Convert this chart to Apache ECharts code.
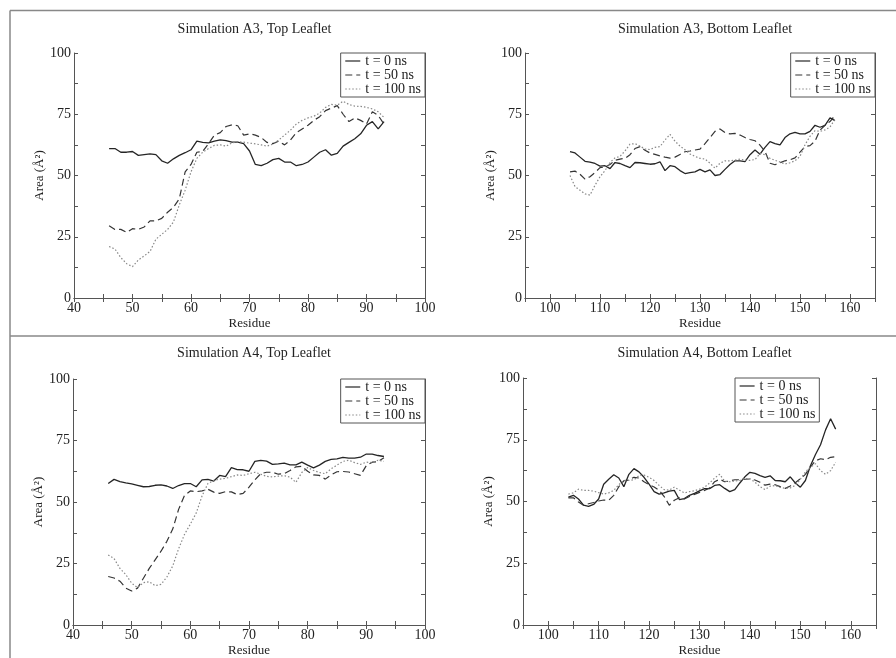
<!DOCTYPE html>
<html>
<head>
<meta charset="utf-8">
<script src="https://cdn.jsdelivr.net/npm/echarts@6/dist/echarts.min.js"></script>
<style>
  html, body { margin: 0; padding: 0; background: #fff; }
  #main { width: 896px; height: 658px; }
</style>
</head>
<body>
<div id="main"></div>
<script>
var residuesTop = [46, 47, 48, 49, 50, 51, 52, 53, 54, 55, 56, 57, 58, 59, 60, 61, 62, 63, 64, 65,
  66, 67, 68, 69, 70, 71, 72, 73, 74, 75, 76, 77, 78, 79, 80, 81, 82, 83, 84, 85, 86, 87, 88, 89, 90, 91, 92, 93];
var residuesBottom = [104, 105, 106, 107, 108, 109, 110, 111, 112, 113, 114, 115, 116, 117, 118, 119, 120,
  121, 122, 123, 124, 125, 126, 127, 128, 129, 130, 131, 132, 133, 134, 135, 136, 137, 138, 139, 140,
  141, 142, 143, 144, 145, 146, 147, 148, 149, 150, 151, 152, 153, 154, 155, 156, 157];

var seriesNames = ['t = 0 ns', 't = 50 ns', 't = 100 ns'];
var panelTitles = ['Simulation A3, Top Leaflet', 'Simulation A3, Bottom Leaflet',
  'Simulation A4, Top Leaflet', 'Simulation A4, Bottom Leaflet'];

// Simulation A3, top leaflet
var a3TopT0 = [61, 61, 59.5, 59.5, 59.8, 58.2, 58.5, 58.8, 58.5, 56,
  55, 56.8, 58.2, 59.3, 60.5, 64, 63.5, 63.3, 64, 64.5,
  64.2, 63.6, 63.6, 63, 60, 54.5, 54, 55, 56.5, 57,
  55.5, 55.5, 54, 54.5, 55.5, 57.5, 59.5, 60.5, 58.3, 59,
  62, 63.5, 65, 67, 70.5, 72, 69, 72];
var a3TopT50 = [29.5, 28, 28, 26.8, 28.3, 28, 29, 31.5, 31.5, 32.5,
  35, 37, 40.5, 51.5, 54.5, 59.5, 59.8, 63, 66.5, 67.5,
  70, 70.7, 70.3, 66.5, 67, 66.5, 65.5, 63.5, 63, 64,
  62.5, 64.5, 67.5, 69, 70.5, 72.5, 74, 76.5, 77.5, 78.5,
  75, 72, 73.5, 72.5, 71, 76, 74.5, 71];
var a3TopT100 = [21, 20, 16.5, 14, 12.8, 15.5, 17.2, 19, 24, 26,
  28, 31, 38, 44, 51.5, 57, 59.5, 61, 62.3, 62.5,
  62, 63.3, 63.8, 63.6, 63.2, 62.9, 62.5, 62, 62.8, 64.5,
  66.5, 68.5, 71, 72.5, 73.5, 74.2, 75.5, 77.8, 79, 78.7,
  80.3, 79, 78.3, 78.2, 77.8, 77.2, 76, 73.7];

// Simulation A3, bottom leaflet
var a3BotT0 = [59.7, 59.2, 57.5, 55.8, 55.5, 54.9, 53.8, 54, 52.8, 55.3,
  54.9, 54, 53.2, 55.3, 55.2, 54.9, 54.6, 54.8, 55.6, 52,
  54, 53.6, 52, 50.8, 51.2, 51.5, 52.5, 51.5, 52.3, 50,
  50.4, 52.5, 54.5, 56, 56, 55.7, 58.5, 60.4, 58.7, 61.5,
  63.8, 63, 62.5, 65.5, 67, 67.6, 67, 67, 68, 70.5,
  69.7, 70.5, 73.5, 72.4];
var a3BotT50 = [51.5, 51.8, 50.5, 48.5, 49.5, 51.2, 53.2, 53.5, 54.5, 56.2,
  56.7, 57, 58.5, 61, 61.8, 60.3, 59.2, 58.6, 58, 57.5,
  57.1, 57.5, 58.6, 59.7, 60, 60.4, 60.8, 63, 65.5, 68,
  69, 67.5, 67, 67.2, 66.5, 65.5, 64.7, 64.2, 62.4, 59.8,
  55, 54.4, 55.2, 56, 56.4, 57.2, 59.5, 61.8, 62.2, 64,
  68.5, 70.5, 72, 74.5];
var a3BotT100 = [50, 45.5, 44, 42.5, 42, 46, 49.5, 52, 55.3, 57.2,
  57.8, 60, 62.8, 63, 62, 60.8, 60.6, 61.5, 61.8, 64.5,
  66.8, 64, 62, 60.5, 58.8, 57.8, 57, 56.7, 55, 53,
  55, 56, 56, 56.3, 56.7, 56.2, 56.2, 56.5, 59, 58.5,
  57, 56.2, 55.5, 54.7, 55.2, 56, 57.8, 62.5, 66, 68.3,
  68, 68.6, 69.8, 73];

// Simulation A4, top leaflet
var a4TopT0 = [57.5, 59.2, 58.3, 57.8, 57.4, 56.8, 56.2, 56.3, 56.8, 57,
  56.5, 55.5, 56.7, 57.5, 57.5, 56.2, 59, 59.2, 58.5, 60.8,
  60.3, 64, 63.2, 63.1, 62.5, 66.5, 66.9, 66.6, 65.3, 65.5,
  65.8, 65.1, 65.1, 66.2, 65, 63.9, 65, 66.5, 67.3, 67.5,
  68.1, 67.8, 67.8, 68.2, 69.5, 69.5, 68.9, 68.5];
var a4TopT50 = [19.7, 19.1, 17.8, 15, 13.8, 15, 19, 23, 26.5, 30,
  34, 39, 47, 52.6, 54.5, 54.2, 54.5, 55.2, 54, 53.5,
  54.2, 54.1, 53, 53.5, 56, 59, 61.5, 62.1, 62.1, 61.3,
  61.5, 62.8, 64.3, 64.5, 62.5, 61, 60.8, 59.3, 61, 62.3,
  62.4, 62.2, 61.5, 60.8, 64.8, 66.2, 66.4, 68];
var a4TopT100 = [28.5, 27, 23, 20.5, 17, 15.2, 17.2, 17.6, 16, 16.5,
  19.5, 24, 31, 36.8, 41, 45.5, 52.5, 57.5, 58.8, 59.3,
  59.6, 60.3, 61, 60.8, 61.5, 62.1, 61.3, 60.4, 60.2, 60.5,
  60.7, 60.1, 58, 62, 64, 62.8, 62, 61.5, 63.5, 65,
  66.5, 67, 66, 65.3, 66.2, 66, 67, 66.5];

// Simulation A4, bottom leaflet
var a4BotT0 = [51.8, 52.5, 51, 48.5, 48, 48.8, 51, 57, 59, 60.8,
  59.5, 56, 61, 63.3, 62, 59.8, 57, 54, 53, 53.5,
  54.2, 54.5, 50.8, 51.2, 52.5, 53.3, 54.3, 55.2, 55.2, 56.5,
  56.8, 55.3, 54, 54.8, 57.5, 60, 61.8, 61.4, 60.5, 59.8,
  60.4, 58.5, 58.4, 58, 60, 57.5, 55.8, 58.5, 64.5, 69,
  73, 79, 83.5, 79.3];
var a4BotT50 = [51.5, 51.5, 49.8, 48.5, 49.1, 49.6, 50.2, 50.6, 50.5, 52.5,
  56, 58.4, 58.7, 59.8, 59.5, 58, 56.8, 55.9, 54.5, 52,
  48.5, 50.5, 51.5, 51, 52, 52.9, 53.7, 54.5, 55.5, 58,
  59, 58, 58.3, 58.8, 58.8, 59, 59.1, 58.7, 57.8, 56.6,
  57, 56.8, 56, 55.3, 56.3, 57.6, 59.2, 61, 64, 66.5,
  67.3, 66.9, 67.9, 68.1];
var a4BotT100 = [53, 53.5, 55, 54.5, 54.5, 54.2, 53.6, 53, 53.5, 54.5,
  56.8, 58.6, 58.5, 58.8, 60.5, 60.7, 59.8, 58.5, 56.5, 54.8,
  54.6, 55.8, 54.6, 53.5, 54, 54.3, 55, 55.8, 57.5, 59.5,
  61, 58.2, 58, 58.3, 58.5, 59.3, 59.2, 57.8, 56, 54.8,
  56.2, 56.5, 55.7, 55.4, 55.5, 56.5, 59, 62, 63.9, 65.3,
  62.5, 61, 62.5, 65.9];

var FONT = 'Liberation Serif';
var myChart = echarts.init(document.getElementById('main'));

var grids = [
  {left: 74, top: 53, width: 351, height: 245},
  {left: 525, top: 53, width: 350, height: 245},
  {left: 73, top: 379, width: 352, height: 246},
  {left: 523, top: 378, width: 353, height: 249}
];
var xRanges = [[40, 100], [95, 165], [40, 100], [95, 165]];
var panelData = [
  [residuesTop, [a3TopT0, a3TopT50, a3TopT100]],
  [residuesBottom, [a3BotT0, a3BotT50, a3BotT100]],
  [residuesTop, [a4TopT0, a4TopT50, a4TopT100]],
  [residuesBottom, [a4BotT0, a4BotT50, a4BotT100]]
];
var lineColors = ['#252525', '#353535', '#888888'];
var lineStyles = [
  {color: lineColors[0], width: 1.3, type: 'solid'},
  {color: lineColors[1], width: 1.2, type: [7, 4]},
  {color: lineColors[2], width: 1.2, type: [1.5, 2]}
];

function zip(xs, ys) {
  return xs.map(function (x, i) { return [x, ys[i]]; });
}

var xAxes = [], yAxes = [], series = [], titles = [], legends = [];
grids.forEach(function (g, i) {
  var tickCommon = {
    axisLine: {show: true, lineStyle: {color: '#555', width: 1}},
    axisTick: {show: true, inside: true, length: 4, lineStyle: {color: '#555'}},
    splitLine: {show: false}
  };
  xAxes.push(Object.assign({
    gridIndex: i, type: 'value', position: 'bottom',
    min: xRanges[i][0], max: xRanges[i][1], interval: 5,
    name: 'Residue', nameLocation: 'middle', nameGap: 19,
    nameTextStyle: {fontFamily: FONT, fontSize: 13, color: '#222'},
    axisLabel: {
      fontFamily: FONT, fontSize: 14, color: '#222', margin: 3,
      formatter: function (v) { return v % 10 === 0 ? String(v) : ''; }
    }
  }, tickCommon));
  xAxes.push(Object.assign({
    gridIndex: i, type: 'value', position: 'top',
    min: xRanges[i][0], max: xRanges[i][1], interval: 5,
    axisLabel: {show: false}
  }, tickCommon));
  yAxes.push(Object.assign({
    gridIndex: i, type: 'value', position: 'left',
    min: 0, max: 100, interval: 12.5,
    name: 'Area (\u00c5\u00b2)', nameLocation: 'middle', nameGap: 27,
    nameTextStyle: {fontFamily: FONT, fontSize: 13, color: '#222'},
    axisLabel: {
      fontFamily: FONT, fontSize: 14, color: '#222', margin: 3,
      formatter: function (v) { return v % 25 === 0 ? String(v) : ''; }
    }
  }, tickCommon));
  yAxes.push(Object.assign({
    gridIndex: i, type: 'value', position: 'right',
    min: 0, max: 100, interval: 12.5,
    axisLabel: {show: false}
  }, tickCommon));

  titles.push({
    text: panelTitles[i],
    left: g.left + g.width / 2,
    top: i < 2 ? 17 : 341,
    textAlign: 'center',
    textStyle: {fontFamily: FONT, fontSize: 14, fontWeight: 'normal', color: '#222'}
  });

  var lg = {
    data: seriesNames,
    orient: 'vertical',
    top: g.top,
    backgroundColor: '#fff',
    borderColor: '#555',
    borderWidth: 1,
    borderRadius: 0,
    padding: [1, 4, 1, 4],
    itemGap: 0,
    itemWidth: 15,
    itemHeight: 14,
    selectedMode: false,
    itemStyle: {opacity: 0},
    lineStyle: {width: 1.2},
    textStyle: {fontFamily: FONT, fontSize: 14, color: '#222', lineHeight: 14}
  };
  if (i === 3) { lg.left = 735; } else { lg.right = 896 - (g.left + g.width); }
  legends.push(lg);

  var d = panelData[i];
  d[1].forEach(function (vals, k) {
    series.push({
      type: 'line',
      name: seriesNames[k],
      xAxisIndex: i * 2,
      yAxisIndex: i * 2,
      data: zip(d[0], vals),
      symbol: 'none',
      showSymbol: false,
      animation: false,
      color: lineColors[k],
      itemStyle: {color: lineColors[k]},
      lineStyle: lineStyles[k]
    });
  });
});

var option = {
  backgroundColor: '#fff',
  animation: false,
  title: titles,
  legend: legends,
  grid: grids,
  xAxis: xAxes,
  yAxis: yAxes,
  series: series,
  graphic: [
    {type: 'line', shape: {x1: 10, y1: 10.5, x2: 896, y2: 10.5}, style: {stroke: '#888', lineWidth: 1.5}},
    {type: 'line', shape: {x1: 10, y1: 10.5, x2: 10, y2: 658}, style: {stroke: '#888', lineWidth: 1.5}},
    {type: 'line', shape: {x1: 10, y1: 336, x2: 896, y2: 336}, style: {stroke: '#888', lineWidth: 1.5}}
  ]
};

myChart.setOption(option);
window.onresize = function () {
  myChart.resize();
};
</script>
</body>
</html>
